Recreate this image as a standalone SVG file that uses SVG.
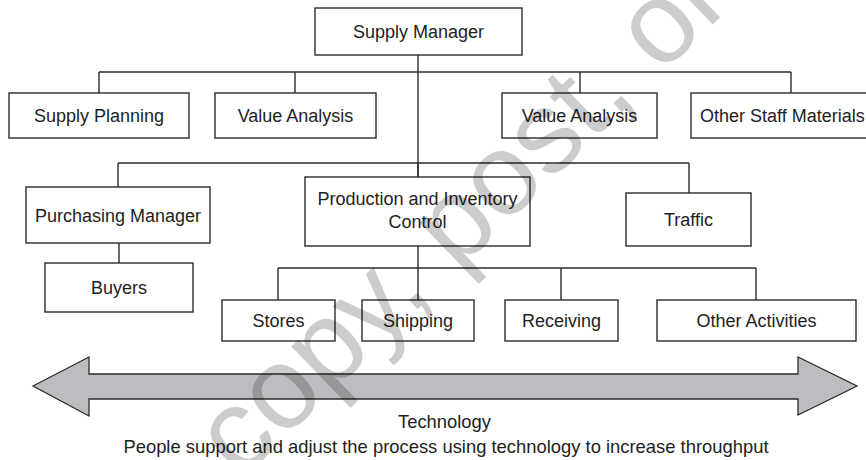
<svg xmlns="http://www.w3.org/2000/svg" width="866" height="460" viewBox="0 0 866 460">
<style>
.box{fill:#fff;stroke:#2b2b2b;stroke-width:1.4}
.lbl{font-family:"Liberation Sans",Arial,sans-serif;font-size:18px;fill:#1e1e1e;text-anchor:middle}
.cap{font-family:"Liberation Sans",Arial,sans-serif;font-size:18.4px;fill:#1e1e1e;text-anchor:middle}
.conn{fill:none;stroke:#2b2b2b;stroke-width:1.4}
.wm{font-family:"Liberation Sans",Arial,sans-serif;font-size:116px;fill:#000;fill-opacity:0.2}
</style>
<rect width="866" height="460" fill="#fff"/>
<g id="connectors">
<path class="conn" d="M418 55V268"/>
<path class="conn" d="M99 72H791M99 72V93M295 72V93M580 72V93M791 72V93"/>
<path class="conn" d="M118 163H689M118 163V187M418 163V177M689 163V193"/>
<path class="conn" d="M119 243V263"/>
<path class="conn" d="M278 268H756M278 268V300M418 268V300M561 268V300M756 268V300"/>
</g>
<g id="supply-manager"><rect class="box" x="315" y="8" width="207" height="47"/><text class="lbl" x="418.5" y="38">Supply Manager</text></g>
<g id="supply-planning"><rect class="box" x="9" y="93" width="180" height="45"/><text class="lbl" x="99" y="122">Supply Planning</text></g>
<g id="value-analysis-1"><rect class="box" x="215" y="93" width="161" height="45"/><text class="lbl" x="295.5" y="122">Value Analysis</text></g>
<g id="value-analysis-2"><rect class="box" x="502" y="93" width="155" height="45"/><text class="lbl" x="579.5" y="122">Value Analysis</text></g>
<g id="other-staff"><rect class="box" x="691" y="93" width="200" height="45"/><text class="lbl" x="700" y="122" style="text-anchor:start">Other Staff Materials</text></g>
<g id="purchasing-manager"><rect class="box" x="26" y="187" width="184" height="56"/><text class="lbl" x="118" y="221.5">Purchasing Manager</text></g>
<g id="production-inventory"><rect class="box" x="305" y="177" width="225" height="69"/><text class="lbl" x="417.5" y="205">Production and Inventory</text><text class="lbl" x="417.5" y="228">Control</text></g>
<g id="traffic"><rect class="box" x="626" y="193" width="125" height="53"/><text class="lbl" x="688.5" y="226">Traffic</text></g>
<g id="buyers"><rect class="box" x="45" y="263" width="148" height="49"/><text class="lbl" x="119" y="294">Buyers</text></g>
<g id="stores"><rect class="box" x="222" y="300" width="113" height="41"/><text class="lbl" x="278.5" y="327">Stores</text></g>
<g id="shipping"><rect class="box" x="362" y="300" width="112" height="41"/><text class="lbl" x="418" y="327">Shipping</text></g>
<g id="receiving"><rect class="box" x="505" y="300" width="113" height="41"/><text class="lbl" x="561.5" y="327">Receiving</text></g>
<g id="other-activities"><rect class="box" x="657" y="300" width="199" height="41"/><text class="lbl" x="756.5" y="327">Other Activities</text></g>
<g id="technology">
<polygon points="33,386 89,357 89,374 798,374 798,357 857,386 798,415 798,399 89,399 89,416" fill="#bcbdc0" stroke="#2b2b2b" stroke-width="1.3" stroke-linejoin="miter"/>
<text class="cap" x="444.5" y="428">Technology</text>
<text class="cap" x="446" y="453">People support and adjust the process using technology to increase throughput</text>
</g>
<text class="wm" transform="translate(240 481) rotate(-44)">copy, post, or</text>
</svg>
